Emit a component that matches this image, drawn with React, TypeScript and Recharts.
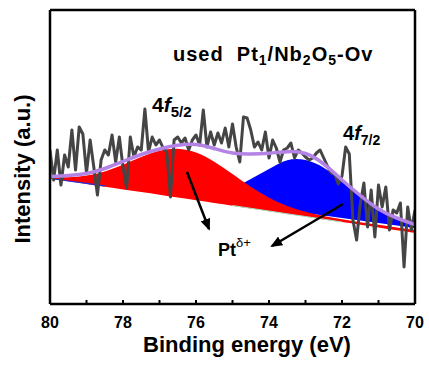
import React from 'react';
import { ComposedChart, Area, Line, XAxis, YAxis, ReferenceLine } from 'recharts';

// binding energy grid of the raw spectrum (eV)
const energy = [
  80, 79.9, 79.8, 79.7, 79.6, 79.5, 79.4, 79.3, 79.2, 79.1,
  79, 78.9, 78.8, 78.7, 78.6, 78.5, 78.4, 78.3, 78.2, 78.1,
  78, 77.9, 77.8, 77.7, 77.6, 77.5, 77.4, 77.3, 77.2, 77.1,
  77, 76.9, 76.8, 76.7, 76.6, 76.5, 76.4, 76.3, 76.2, 76.1,
  76, 75.9, 75.8, 75.7, 75.6, 75.5, 75.4, 75.3, 75.2, 75.1,
  75, 74.9, 74.8, 74.7, 74.6, 74.5, 74.4, 74.3, 74.2, 74.1,
  74, 73.9, 73.8, 73.7, 73.6, 73.5, 73.4, 73.3, 73.2, 73.1,
  73, 72.9, 72.8, 72.7, 72.6, 72.5, 72.4, 72.3, 72.2, 72.1,
  72, 71.9, 71.8, 71.7, 71.6, 71.5, 71.4, 71.3, 71.2, 71.1,
  71, 70.9, 70.8, 70.7, 70.6, 70.5, 70.4, 70.3, 70.2, 70.1,
  70,
];

// measured counts (a.u.)
const counts = [
  154, 124, 154, 119, 149, 137, 174, 134, 177, 170,
  131, 164, 137, 109, 144, 154, 149, 169, 142, 167,
  137, 116, 167, 147, 157, 154, 195, 152, 167, 159,
  164, 156, 152, 107, 164, 167, 161, 166, 154, 164,
  169, 159, 194, 157, 172, 159, 171, 161, 176, 157,
  180, 157, 142, 187, 186, 174, 157, 162, 154, 172,
  146, 164, 156, 142, 154, 156, 161, 146, 154, 151,
  147, 144, 146, 151, 154, 146, 138, 131, 130, 120,
  128, 157, 150, 84, 64, 100, 121, 77, 114, 67,
  119, 97, 117, 74, 94, 91, 101, 37, 97, 74,
  94,
];

// fitted components, sampled every 0.5 eV
const fitEnergy = [80, 79.5, 79, 78.5, 78, 77.5, 77, 76.5, 76, 75.5, 75, 74.5, 74, 73.5, 73, 72.5, 72, 71.5, 71, 70.5, 70];
const f52Low = [125.5, 122.8, 120.1, 117.3, 114.6, 111.9, 109.2, 106.4, 103.7, 101, 98.3, 95.5, 92.8, 90.1, 87.4, 84.6, 81.9, 79.2, 76.5, 73.7, 71];
const f52Top = [127.1, 126.7, 128.4, 132.6, 139.2, 146.9, 153.2, 155.2, 151.4, 142.2, 130, 117.3, 106.3, 98, 92.2, 88, 84.7, 81.8, 79.2, 76.6, 74];
const f72Low = [125.5, 123, 120.6, 118.1, 115.6, 113.1, 110.7, 108.2, 105.7, 103.2, 100.8, 98.3, 95.8, 93.3, 90.9, 88.4, 85.9, 83.4, 81, 78.5, 76];
const f72Top = [125.5, 123, 120.6, 118.1, 115.6, 113.2, 111, 109.2, 108.6, 110.4, 115.6, 124.9, 134.9, 143.7, 143.9, 136.3, 122.5, 107.1, 93.9, 84.5, 78.3];
const envelope = [127.5, 128.5, 130.5, 135.5, 142.5, 149.5, 155, 158.7, 159.5, 155.5, 151, 150, 150.8, 152.3, 150.5, 140, 124, 108.5, 95, 86, 79.5];
const bgLeft = [125.5, 123, 120.6, 118.1, null, null, null, null, null, null, null, null, null, null, null, null, null, null, null, null, null];
const bgMid = [null, null, null, null, null, null, null, null, null, null, 98.5, 95.7, 93, 90.2, 87.5, 84.8, 82, null, null, null, null];

const xTicks = [80, 79, 78, 77, 76, 75, 74, 73, 72, 71, 70];

const spectrum = energy.map((x, i) => ({ x, counts: counts[i] }));
const fits = fitEnergy.map((x, i) => ({
  x,
  f52: [f52Low[i], f52Top[i]],
  f72: [f72Low[i], f72Top[i]],
  sum: envelope[i],
  bgLeft: bgLeft[i],
  bgMid: bgMid[i],
}));

const FONT = '"Liberation Sans", Arial, sans-serif';
const axisStyle = { stroke: '#000', strokeWidth: 2.5 };

const XTick = (props: any) => {
  const { x, y, payload } = props;
  const v = payload.value;
  return (
    <g>
      <line x1={x} x2={x} y1={y} y2={y - 4} stroke="#000" strokeWidth={2} />
      {v % 2 === 0 && (
        <text x={x} y={y + 24} textAnchor="middle" fontSize={16} fontWeight="bold" fontFamily={FONT} fill="#000">
          {v}
        </text>
      )}
    </g>
  );
};

const App: React.FC = () => {
  return (
    <div style={{ position: 'relative', width: 429, height: 372, background: '#fff' }}>
      <style>{'html,body{margin:0;padding:0;overflow:hidden;}'}</style>
      <ComposedChart width={429} height={372} margin={{ top: 10, right: 14, bottom: 0, left: 0 }}>
        <XAxis
          xAxisId="b"
          type="number"
          dataKey="x"
          domain={[70, 80]}
          reversed
          ticks={xTicks}
          interval={0}
          height={68}
          tickSize={0}
          tickMargin={0}
          tickLine={false}
          tick={<XTick />}
          axisLine={axisStyle}
          allowDataOverflow
        />
        <YAxis yAxisId="l" type="number" domain={[0, 294]} width={50} tick={false} tickLine={false} axisLine={axisStyle} allowDataOverflow />

        <Area xAxisId="b" yAxisId="l" data={fits} dataKey="f72" type="natural" fill="#0000ff" fillOpacity={1} stroke="none" isAnimationActive={false} />
        <Area xAxisId="b" yAxisId="l" data={fits} dataKey="f52" type="natural" fill="#ff0000" fillOpacity={1} stroke="none" isAnimationActive={false} />
        <Line xAxisId="b" yAxisId="l" data={fits} dataKey="bgMid" type="natural" stroke="#a6e3c7" strokeWidth={1} dot={false} isAnimationActive={false} />
        <Line xAxisId="b" yAxisId="l" data={fits} dataKey="bgLeft" type="linear" stroke="#2030e0" strokeWidth={1.2} dot={false} isAnimationActive={false} />
        <Line xAxisId="b" yAxisId="l" data={spectrum} dataKey="counts" type="linear" stroke="#454545" strokeWidth={3} strokeLinejoin="round" dot={false} isAnimationActive={false} />
        <Line xAxisId="b" yAxisId="l" data={fits} dataKey="sum" type="natural" stroke="#b483e6" strokeWidth={3.5} dot={false} isAnimationActive={false} />

        {/* frame: top and right edges */}
        <ReferenceLine xAxisId="b" yAxisId="l" y={294} stroke="#000" strokeWidth={2.5} />
        <ReferenceLine xAxisId="b" yAxisId="l" x={70} stroke="#000" strokeWidth={2.5} />
      </ComposedChart>

      <svg width={429} height={372} style={{ position: 'absolute', left: 0, top: 0, pointerEvents: 'none' }} fontFamily={FONT}>
        <defs>
          <marker id="head" markerWidth={12} markerHeight={10} refX={10} refY={5} orient="auto" markerUnits="userSpaceOnUse">
            <path d="M0,0 L12,5 L0,10 z" fill="#000" />
          </marker>
        </defs>
        <text x={173} y={61} fontSize={20} fontWeight="bold" letterSpacing={1} fill="#000">
          used{'\u00a0\u00a0'}Pt<tspan fontSize={14} dy={4}>1</tspan>
          <tspan dy={-4}>/Nb</tspan>
          <tspan fontSize={14} dy={4}>2</tspan>
          <tspan dy={-4}>O</tspan>
          <tspan fontSize={14} dy={4}>5</tspan>
          <tspan dy={-4}>-Ov</tspan>
        </text>
        <text x={152} y={112} fontSize={21} fontWeight="bold" fill="#000">
          4<tspan fontStyle="italic">f</tspan>
          <tspan fontSize={15} dy={5}>5/2</tspan>
        </text>
        <text x={343} y={140} fontSize={20} fontWeight="bold" fill="#000">
          4<tspan fontStyle="italic">f</tspan>
          <tspan fontSize={14} dy={5}>7/2</tspan>
        </text>
        <text x={218} y={256} fontSize={18} fontWeight="bold" fill="#000">
          Pt<tspan fontSize={13} dy={-9} fontWeight="normal">δ+</tspan>
        </text>
        <line x1={187} y1={172} x2={209} y2={229} stroke="#000" strokeWidth={2.5} markerEnd="url(#head)" />
        <line x1={343} y1={204} x2={272} y2={246} stroke="#000" strokeWidth={2.5} markerEnd="url(#head)" />
        <text x={247} y={352} fontSize={22} fontWeight="bold" textAnchor="middle" fill="#000">
          Binding energy (eV)
        </text>
        <text x={30} y={169} fontSize={22} fontWeight="bold" textAnchor="middle" fill="#000" transform="rotate(-90 30 169)">
          Intensity (a.u.)
        </text>
      </svg>
    </div>
  );
};

export default App;
